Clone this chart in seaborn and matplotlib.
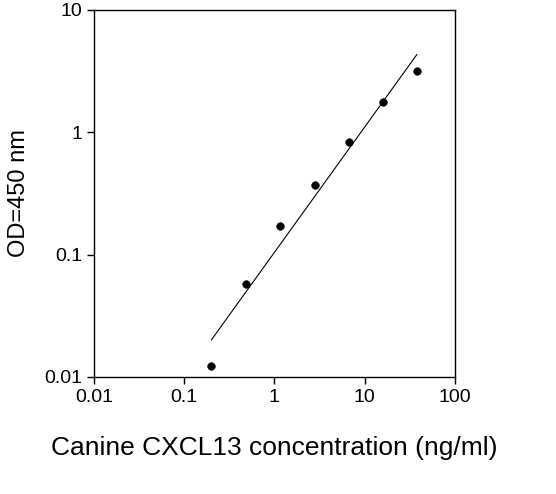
import numpy as np
import matplotlib
matplotlib.use("Agg")
import matplotlib.pyplot as plt
import seaborn as sns
import pandas as pd

conc = [0.2, 0.49, 1.15, 2.85, 6.7, 15.9, 38.0]
od = [0.0123, 0.058, 0.17, 0.37, 0.83, 1.75, 3.15]
xticks = [0.01, 0.1, 1, 10, 100]
xticklabels = ["0.01", "0.1", "1", "10", "100"]
yticks = [0.01, 0.1, 1, 10]
yticklabels = ["0.01", "0.1", "1", "10"]

sns.set_style("ticks")
plt.rcParams['font.family'] = ['Liberation Sans', 'DejaVu Sans']
plt.rcParams['text.color'] = 'black'
plt.rcParams['axes.labelcolor'] = 'black'
plt.rcParams['xtick.color'] = 'black'
plt.rcParams['ytick.color'] = 'black'

fig = plt.figure(figsize=(5.56, 4.94), dpi=100)
ax = fig.add_axes([0.169, 0.237, 0.649, 0.743])
df = pd.DataFrame({"conc": conc, "od": od})
sns.scatterplot(data=df, x="conc", y="od", ax=ax, color="black", s=30, edgecolor="black", zorder=3)
b, a = np.polyfit(np.log10(conc), np.log10(od), 1)
xl = np.array([conc[0], conc[-1]])
ax.plot(xl, 10 ** (a + b * np.log10(xl)), color="black", lw=0.8)
ax.set_xscale("log"); ax.set_yscale("log")
ax.set_xlim(0.01, 100); ax.set_ylim(0.01, 10)
ax.set_xticks(xticks); ax.set_xticklabels(xticklabels)
ax.set_yticks(yticks); ax.set_yticklabels(yticklabels)
ax.minorticks_off()
ax.tick_params(labelsize=14, direction="out", length=5, color="black", width=1)
for s in ax.spines.values():
    s.set_color("black"); s.set_linewidth(1)
ax.set_xlabel("Canine CXCL13 concentration (ng/ml)", fontsize=19, labelpad=22)
ax.set_ylabel("OD=450 nm", fontsize=17, labelpad=10)
fig.savefig("out.png", dpi=100)
